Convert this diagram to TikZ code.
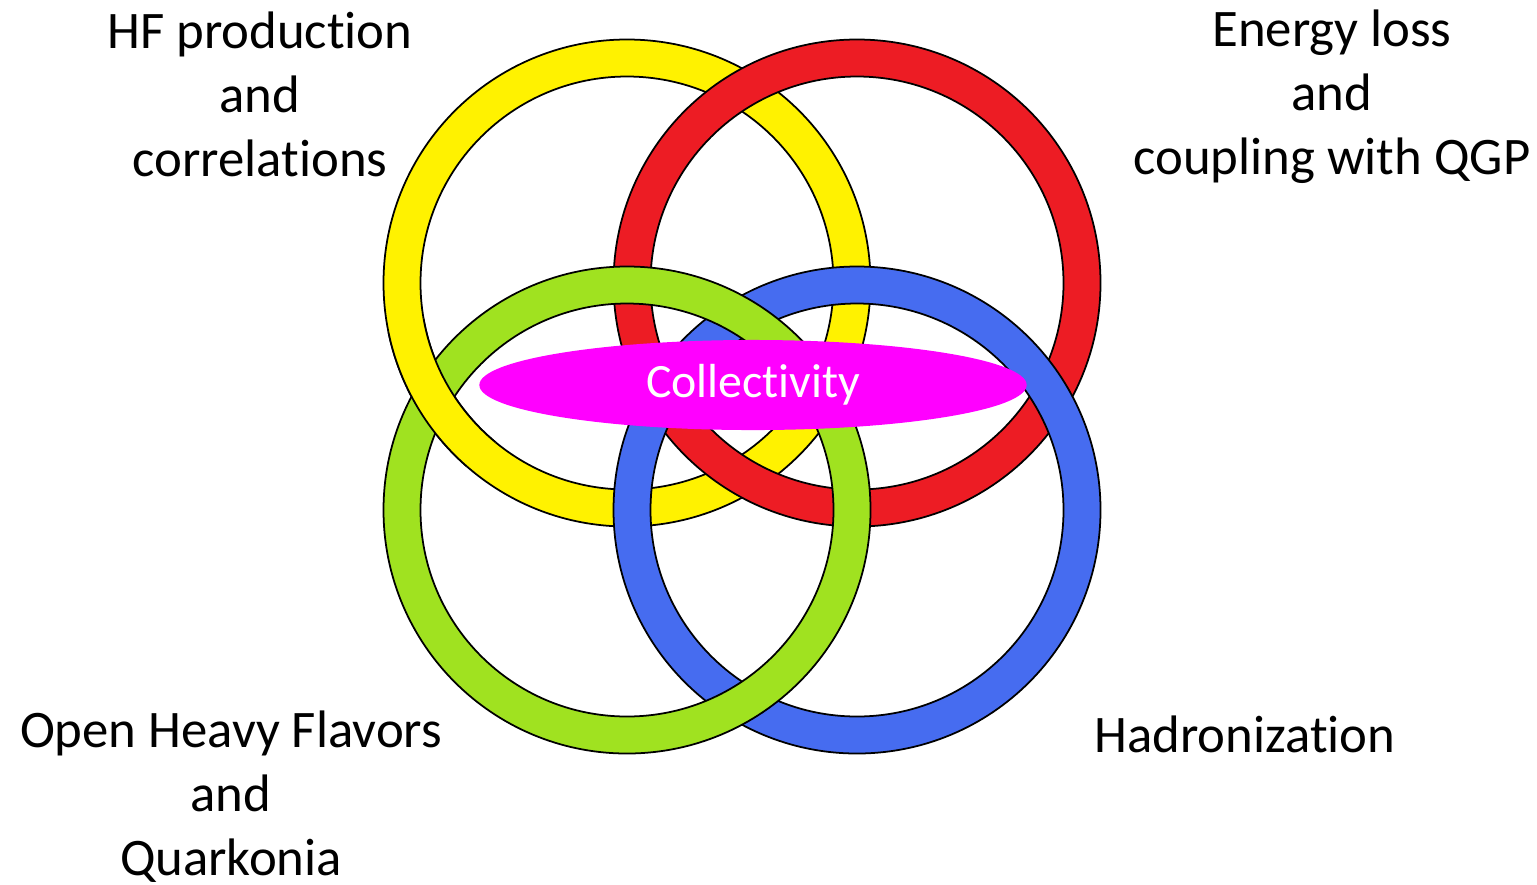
\documentclass[tikz,border=0pt]{standalone}
\usepackage{fontspec}
\setmainfont{Carlito}[Ligatures=NoCommon]
\usetikzlibrary{shapes.geometric}
\definecolor{ringyellow}{RGB}{255,242,0}
\definecolor{ringred}{RGB}{237,28,36}
\definecolor{ringgreen}{RGB}{160,226,32}
\definecolor{ringblue}{RGB}{70,108,240}
\definecolor{collmag}{RGB}{255,0,255}
\begin{document}
\begin{tikzpicture}[x=0.01cm,y=-0.01cm,line join=round,
        label/.style={align=center,font=\fontsize{15}{18.2}\selectfont},
        ring/.style={draw=black,line width=0.5pt,even odd rule}]
                \useasboundingbox (0,0) rectangle (1537,884);
                \def\ro{243.5}\def\ri{206.5}
                \foreach \c/\x/\y in {ringyellow/627/283,ringred/857/283,ringblue/857/510,ringgreen/627/510}
                \filldraw[ring,fill=\c] (\x,\y) circle (\ro) (\x,\y) circle (\ri);
                % yellow passes over green on the left
                \begin{scope}
                \clip (433,396) circle (78);
                \filldraw[ring,fill=ringyellow] (627,283) circle (\ro) (627,283) circle (\ri);
                \end{scope}
                \node[ellipse,fill=collmag,minimum width=5.47cm,minimum height=0.9cm,inner sep=0pt,text=white,font=\fontsize{13.6}{16}\selectfont] (coll) at (753,385) {Collectivity};
                \node[label] (hf) at (260,94) {HF production\\and\\correlations};
                \node[label] (eloss) at (1332,97) {Energy loss\\and\\coupling with QGP};
                \node[label] (open) at (231,797) {Open Heavy Flavors\\and\\Quarkonia};
                \node[label] (hadr) at (1245,734) {Hadronization};
\end{tikzpicture}
\end{document}
